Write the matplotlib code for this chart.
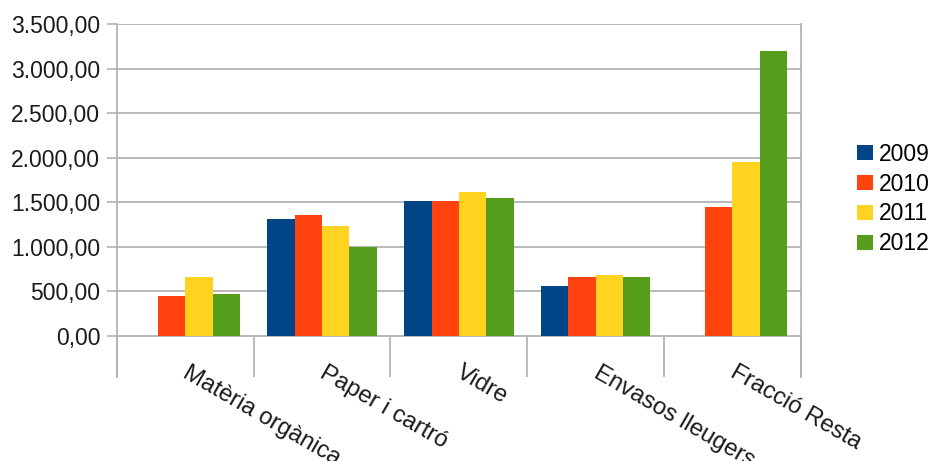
import matplotlib
matplotlib.use("Agg")
import matplotlib.pyplot as plt
import numpy as np
from matplotlib.ticker import FuncFormatter, FixedLocator
from matplotlib.transforms import ScaledTranslation, blended_transform_factory

plt.rcParams['font.family'] = ['Liberation Sans', 'DejaVu Sans']

categories = ["Matèria orgànica", "Paper i cartró", "Vidre", "Envasos lleugers", "Fracció Resta"]
series_names = ["2009", "2010", "2011", "2012"]
v2009 = [0, 1305, 1518, 560, 0]
v2010 = [442, 1353, 1518, 658, 1446]
v2011 = [658, 1233, 1614, 680, 1951]
v2012 = [464, 991, 1544, 658, 3192]
series_values = [v2009, v2010, v2011, v2012]
colors = ["#004586", "#ff420e", "#ffd320", "#579d1c"]
yticks = [0, 500, 1000, 1500, 2000, 2500, 3000, 3500]

W, H = 933, 461
fig = plt.figure(figsize=(W / 100, H / 100), dpi=100)
ax = fig.add_axes([117 / W, 1 - 376.7 / H, (800.7 - 117) / W, (376.7 - 24) / H])

x = np.arange(len(categories))
bw = 0.2
for i, (name, vals, c) in enumerate(zip(series_names, series_values, colors)):
    ax.bar(x + (i - 1.5) * bw, vals, width=bw, color=c, label=name, zorder=3)

ax.set_xlim(-0.5, len(categories) - 0.5)
ax.set_ylim(-460, 3500)

grid_c = "#b3b3b3"
ax.yaxis.set_major_locator(FixedLocator(yticks))
ax.yaxis.set_major_formatter(FuncFormatter(
    lambda v, p: f"{v:,.2f}".replace(",", "X").replace(".", ",").replace("X", ".")))
ax.grid(axis='y', color=grid_c, linewidth=1.3, zorder=0)
ax.tick_params(axis='y', length=7, width=1.2, color=grid_c, pad=5,
               labelsize=16.5, labelcolor="#1a1a1a")

# category labels (rotated, starting at the category centre)
ax.set_xticks(x)
ax.set_xticklabels([])
ax.tick_params(axis='x', which='major', length=0)
trans = blended_transform_factory(ax.transData, ax.transAxes) + \
    ScaledTranslation(5 / 100, 0, fig.dpi_scale_trans)
for xi, lab in zip(x, categories):
    ax.text(xi, 0.043, lab, transform=trans, rotation=-30, rotation_mode='anchor',
            ha='left', va='top', fontsize=17.2, color="#1a1a1a", clip_on=False)

# category separators
ax.set_xticks(np.arange(len(categories) + 1) - 0.5, minor=True)
ax.tick_params(axis='x', which='minor', direction='in', length=29.5, width=1.3, color=grid_c)

for s in ['top', 'bottom']:
    ax.spines[s].set_visible(False)
for s in ['left', 'right']:
    ax.spines[s].set_color(grid_c)
    ax.spines[s].set_linewidth(1.3)

ax.legend(loc='center left', bbox_to_anchor=(856.7 / W, 1 - 199 / H),
          bbox_transform=fig.transFigure, frameon=False, fontsize=16.5,
          borderpad=0, borderaxespad=0, handlelength=0.7, handleheight=0.65,
          handletextpad=0.25, labelspacing=0.3)

fig.savefig("out.png", dpi=100)
